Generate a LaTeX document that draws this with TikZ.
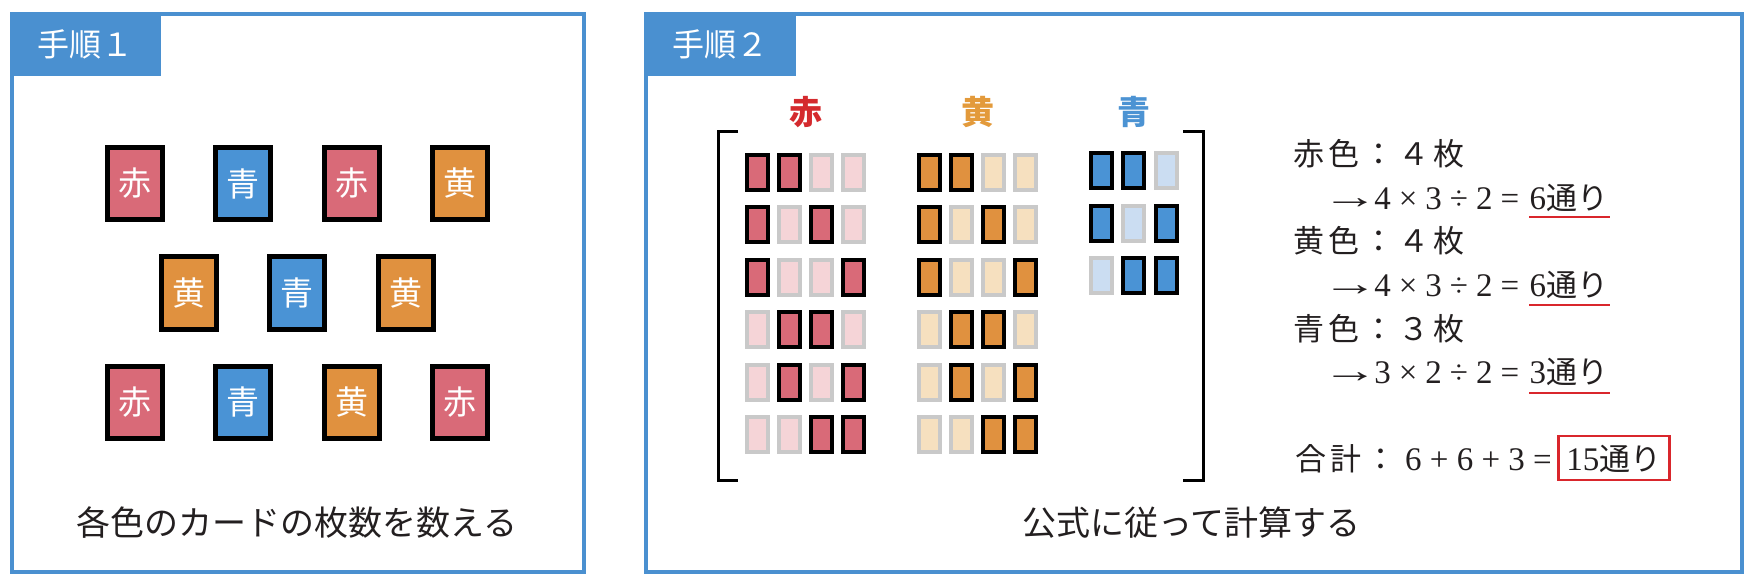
\documentclass[tikz,border=0pt]{standalone}
\usepackage{fontspec}
\usepackage{graphicx}
\newfontfamily\jp{Noto Sans CJK JP}
\newfontfamily\numfont{Liberation Serif}
\definecolor{frameblue}{HTML}{4A90D0}
\definecolor{cred}{HTML}{D96A78}
\definecolor{cyel}{HTML}{E0913F}
\definecolor{cblu}{HTML}{4A93D5}
\definecolor{lred}{HTML}{F5D4D7}
\definecolor{lyel}{HTML}{F6E0BF}
\definecolor{lblu}{HTML}{CBDDF2}
\definecolor{lgray}{HTML}{C9C9C9}
\definecolor{hred}{HTML}{D42A2E}
\definecolor{hyel}{HTML}{E39A3B}
\definecolor{hblu}{HTML}{4C93D3}
\definecolor{ink}{HTML}{231F20}
\definecolor{ulred}{HTML}{D9262C}
\newcommand{\gp}{\hspace{8pt}}
\newcommand{\nf}{\numfont\fontsize{33}{36}\selectfont}
\newcommand{\arr}{\raisebox{1pt}{\scalebox{1.7}[1.05]{→}}}
\tikzset{
  frame/.style={draw=frameblue, line width=4pt},
  labelbox/.style={fill=frameblue, text=white, inner sep=0pt, font=\jp\fontsize{32}{36}\selectfont},
  bigcard/.style={draw=black, line width=5pt, minimum width=55pt, minimum height=72pt, inner sep=0pt, text=white, font=\jp\fontsize{33}{36}\selectfont},
  small/.style={line width=4pt, minimum width=21pt, minimum height=35pt, inner sep=0pt},
  red1/.style={small, draw=black, fill=cred},
  red0/.style={small, draw=lgray, fill=lred},
  yel1/.style={small, draw=black, fill=cyel},
  yel0/.style={small, draw=lgray, fill=lyel},
  blu1/.style={small, draw=black, fill=cblu},
  blu0/.style={small, draw=lgray, fill=lblu},
  caption/.style={text=ink, inner sep=0pt, font=\jp\fontsize{34}{38}\selectfont},
  rtext/.style={text=ink, inner sep=0pt, anchor=base west, font=\jp\fontsize{31}{36}\selectfont},
  header/.style={inner sep=0pt, font=\jp\bfseries\fontsize{33}{36}\selectfont},
  bracket/.style={draw=black, line width=3pt},
  uline/.style={draw=ulred, line width=2.5pt},
}
\begin{document}
\begin{tikzpicture}[x=1pt,y=-1pt]
\useasboundingbox (0,0) rectangle (1750,585);
% panel 1
\draw[frame] (11.5,14.5) rectangle (583.5,572);
\node[labelbox, minimum width=151.5pt, minimum height=63.5pt] (lab1) at (85.25,44.25) {手順１};
\foreach \col/\txt [count=\i] in {cred/赤, cblu/青, cred/赤, cyel/黄}
  \node[bigcard, fill=\col] (a\i) at ({134.5+108.5*(\i-1)},183.5) {\txt};
\foreach \col/\txt [count=\i] in {cyel/黄, cblu/青, cyel/黄}
  \node[bigcard, fill=\col] (b\i) at ({188.75+108.5*(\i-1)},293) {\txt};
\foreach \col/\txt [count=\i] in {cred/赤, cblu/青, cyel/黄, cred/赤}
  \node[bigcard, fill=\col] (c\i) at ({134.5+108.5*(\i-1)},402) {\txt};
\node[caption] (cap1) at (297,523) {各色のカードの枚数を数える};
% panel 2
\draw[frame] (646,14.5) rectangle (1741.5,572);
\node[labelbox, minimum width=151pt, minimum height=63.5pt] (lab2) at (720.5,44.25) {手順２};
\node[header, text=hred] (h1) at (805.5,112) {赤};
\node[header, text=hyel] (h2) at (977.5,112) {黄};
\node[header, text=hblu] (h3) at (1133.5,112) {青};
\draw[bracket] (738,132) -- (718,132) -- (718,480) -- (738,480);
\draw[bracket] (1183,132) -- (1203,132) -- (1203,480) -- (1183,480);
\foreach \pat [count=\j] in {{1,1,0,0},{1,0,1,0},{1,0,0,1},{0,1,1,0},{0,1,0,1},{0,0,1,1}} {
  \foreach \v [count=\i] in \pat {
    \node[red\v] (R\j-\i) at ({757.5+32*(\i-1)},{172.5+52.4*(\j-1)}) {};
    \node[yel\v] (Y\j-\i) at ({929+32.3*(\i-1)},{172.5+52.4*(\j-1)}) {};
  }
}
\foreach \pat [count=\j] in {{1,1,0},{1,0,1},{0,1,1}} {
  \foreach \v [count=\i] in \pat {
    \node[blu\v] (B\j-\i) at ({1101+32.5*(\i-1)},{171+52.4*(\j-1)}) {};
  }
}
% right text
\node[rtext] (l1) at (1293,166) {赤\kern4pt色\kern4pt：\kern4pt４\kern4pt枚};
\node[rtext] (f1) at (1322,210) {\nf \arr\kern-4pt4\gp×\gp3\gp÷\gp2\gp=\kern10pt};
\node[rtext] (v1) at (f1.base east) {\nf 6\jp\fontsize{31}{36}\selectfont 通り};
\draw[uline] ([yshift=-7pt]v1.base west) -- ([yshift=-7pt,xshift=2pt]v1.base east);
\node[rtext] (l2) at (1293,253) {黄\kern4pt色\kern4pt：\kern4pt４\kern4pt枚};
\node[rtext] (f2) at (1322,296) {\nf \arr\kern-4pt4\gp×\gp3\gp÷\gp2\gp=\kern10pt};
\node[rtext] (v2) at (f2.base east) {\nf 6\jp\fontsize{31}{36}\selectfont 通り};
\draw[uline] ([yshift=-9pt]v2.base west) -- ([yshift=-9pt,xshift=2pt]v2.base east);
\node[rtext] (l3) at (1293,340) {青\kern4pt色\kern4pt：\kern4pt３\kern4pt枚};
\node[rtext] (f3) at (1322,383) {\nf \arr\kern-4pt3\gp×\gp2\gp÷\gp2\gp=\kern10pt};
\node[rtext] (v3) at (f3.base east) {\nf 3\jp\fontsize{31}{36}\selectfont 通り};
\draw[uline] ([yshift=-10pt]v3.base west) -- ([yshift=-10pt,xshift=2pt]v3.base east);
\node[rtext] (t0) at (1295,470) {合\kern4pt計\kern4pt：\kern9pt\nf 6 + 6 + 3 =\kern5pt};
\node[rtext, draw=ulred, line width=2.5pt, inner xsep=8pt, inner ysep=7pt, text height=27pt, text depth=3pt] (t1) at (t0.base east) {\nf 15\jp\fontsize{31}{36}\selectfont 通り};
\node[caption] (cap2) at (1191.5,523) {公式に従って計算する};
\end{tikzpicture}
\end{document}
